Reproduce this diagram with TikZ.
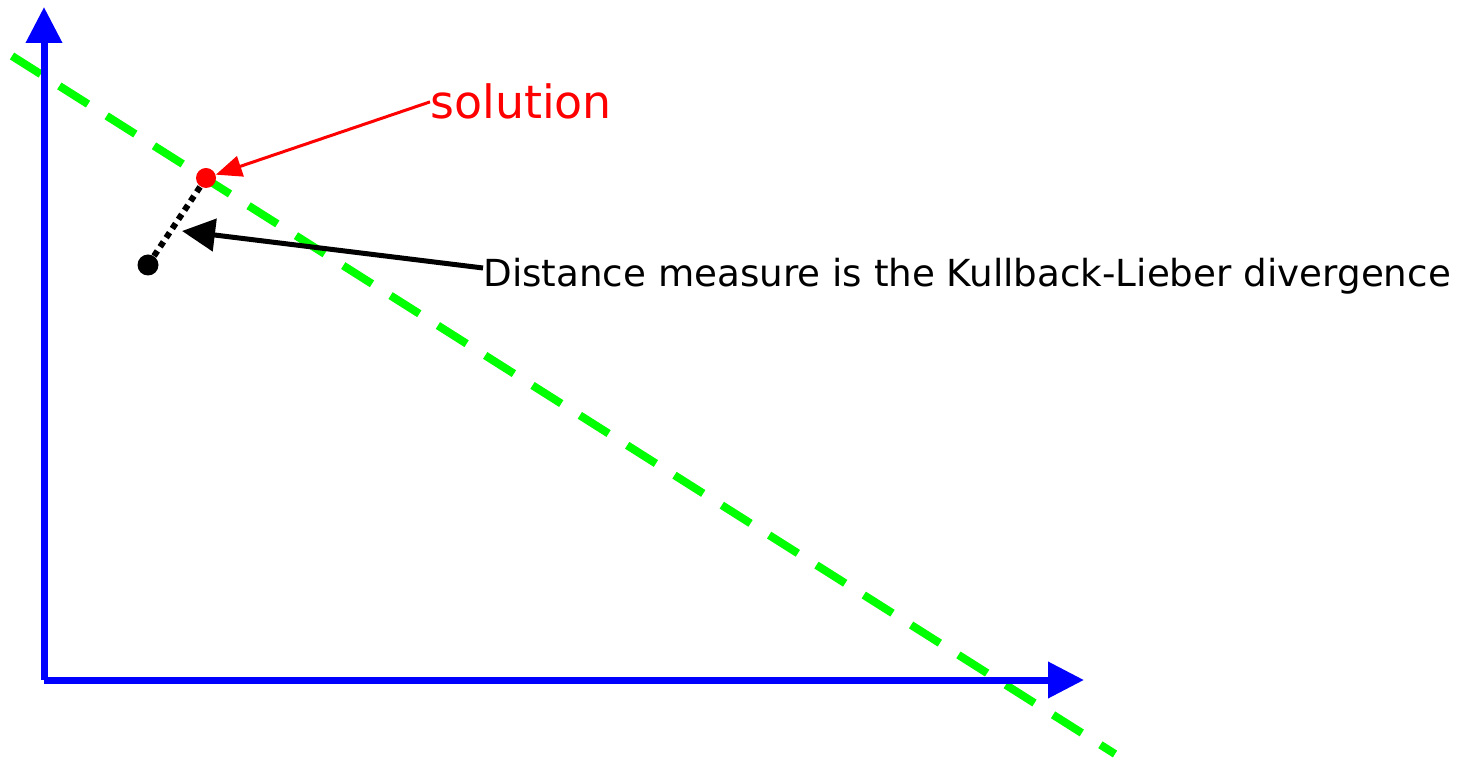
\documentclass[tikz,border=0pt]{standalone}
\usepackage{fontspec}
\setmainfont{DejaVu Sans}
\usepackage{tikz}
\usetikzlibrary{arrows.meta}

\definecolor{axisblue}{RGB}{0,0,255}
\definecolor{linegreen}{RGB}{0,255,0}
\definecolor{solred}{RGB}{255,0,0}

\tikzset{
    axis/.style={axisblue, line width=0.14cm, -{Triangle[length=0.72cm, width=0.7cm]}},
    constraint/.style={linegreen, line width=0.16cm, dash pattern=on 0.68cm off 0.44cm},
    pointer/.style={line width=0.1cm, -{Triangle[length=0.66cm, width=0.64cm]}},
    dotpt/.style={circle, fill, inner sep=0pt, minimum size=0.42cm},
}

\begin{document}
\begin{tikzpicture}[scale=1]
        \useasboundingbox (0,0) rectangle (29.34,15.24);

        % Coordinates
        \coordinate (O) at (0.88, 1.64);
        \coordinate (Y) at (0.88, 15.10);
        \coordinate (X) at (21.68, 1.64);
        \coordinate (A) at (0.24, 14.12);
        \coordinate (B) at (22.30, 0.16);
        \coordinate (T) at (3.64, 10.62);

        % Drawing
        \draw[constraint] (A) -- (B);
        \draw[axis] (O) -- (Y);
        \draw[axis] (O) -- (X);
        \node[dotpt, black] (start) at (2.96, 9.94) {};
        \node[dotpt, solred, minimum size=0.4cm] (sol) at (4.12, 11.68) {};
        \draw[black, line width=0.12cm, dash pattern=on 0.12cm off 0.1cm] (start) -- (sol);
        \node[anchor=base west, inner sep=0pt, text=solred, font=\fontsize{26.1pt}{30pt}\selectfont] (soltext) at (8.60, 12.86) {solution};
        \node[anchor=base west, inner sep=0pt, font=\fontsize{21.2pt}{25pt}\selectfont] (kl) at (9.66, 9.50) {Distance measure is the Kullback-Lieber divergence};
        \draw[solred, line width=0.06cm, -{Triangle[length=0.52cm, width=0.42cm]}] (soltext.west) -- (sol);
        \draw[pointer] ([yshift=0.38cm]kl.base west) -- (T);
    \end{tikzpicture}
\end{document}
